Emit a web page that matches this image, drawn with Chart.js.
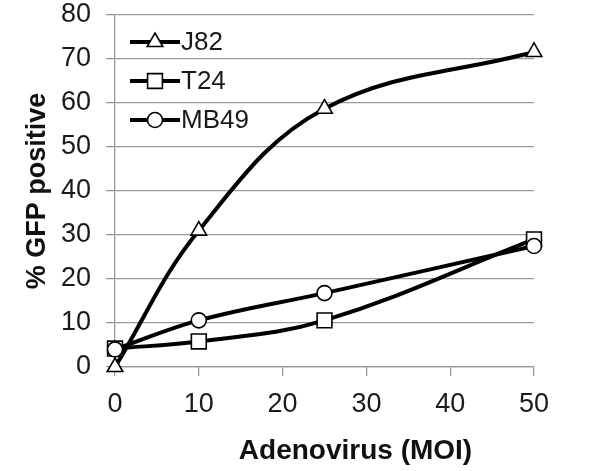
<!DOCTYPE html>
<html>
<head>
<meta charset="utf-8">
<script src="https://cdn.jsdelivr.net/npm/chart.js@4.4.0/dist/chart.umd.min.js"></script>
<style>
  html, body { margin: 0; padding: 0; background: #fff; }
  #wrap { width: 601px; height: 471px; }
</style>
</head>
<body>
<div id="wrap"><canvas id="c" width="601" height="471"></canvas></div>
<script>
var moi = [0, 10, 25, 50];
var j82 = [0, 31, 58.7, 71.6];
var t24 = [4.2, 5.8, 10.6, 29];
var mb49 = [4, 10.6, 16.8, 27.5];
var xTicks = [0, 10, 20, 30, 40, 50];
var yTicks = [0, 10, 20, 30, 40, 50, 60, 70, 80];

var FONT = "'Liberation Sans', Arial, sans-serif";
var GRID = '#9a9a9a';

function pts(ys) {
  return moi.map(function (x, i) { return { x: x, y: ys[i] }; });
}

function series(label, ys, style, radius, order) {
  return {
    label: label,
    data: pts(ys),
    showLine: true,
    clip: false,
    borderColor: '#000',
    borderWidth: 4,
    tension: 0.38,
    pointStyle: style,
    pointRadius: radius,
    pointBorderWidth: 1.6,
    pointBorderColor: '#000',
    pointBackgroundColor: '#fff',
    order: order
  };
}

// legend drawn inside the plot, line + marker like the original
var innerLegend = {
  id: 'innerLegend',
  afterDraw: function (chart) {
    var ctx = chart.ctx, a = chart.chartArea;
    var x0 = a.left + 15, rowY = a.top + 27, gap = 39;
    chart.data.datasets.forEach(function (ds, i) {
      var y = rowY + i * gap;
      ctx.save();
      ctx.strokeStyle = '#000';
      ctx.lineWidth = 4;
      ctx.beginPath();
      ctx.moveTo(x0, y);
      ctx.lineTo(x0 + 50, y);
      ctx.stroke();
      ctx.fillStyle = '#fff';
      ctx.strokeStyle = '#000';
      ctx.lineWidth = 1.6;
      Chart.helpers.drawPoint(ctx, { pointStyle: ds.pointStyle, radius: ds.pointRadius, rotation: 0, borderWidth: 1.6 }, x0 + 25, y);
      ctx.fillStyle = '#1a1a1a';
      ctx.font = '26px ' + FONT;
      ctx.textBaseline = 'middle';
      ctx.textAlign = 'left';
      ctx.fillText(ds.label, x0 + 51, y + 1);
      ctx.restore();
    });
  }
};

// axis titles
var axisTitles = {
  id: 'axisTitles',
  afterDraw: function (chart) {
    var ctx = chart.ctx, a = chart.chartArea;
    ctx.save();
    ctx.fillStyle = '#111';
    ctx.font = 'bold 28px ' + FONT;
    ctx.textAlign = 'center';
    ctx.textBaseline = 'middle';
    ctx.fillText('Adenovirus (MOI)', (a.left + a.right) / 2 + 31, 451);
    ctx.font = 'bold 27px ' + FONT;
    ctx.translate(38, (a.top + a.bottom) / 2);
    ctx.rotate(-Math.PI / 2);
    ctx.fillText('% GFP positive', 0, 0);
    ctx.restore();
  }
};

new Chart(document.getElementById('c'), {
  type: 'scatter',
  data: {
    datasets: [
      series('J82', j82, 'triangle', 9, 2),
      series('T24', t24, 'rect', 10.5, 1),
      series('MB49', mb49, 'circle', 7.5, 0)
    ]
  },
  options: {
    responsive: false,
    animation: false,
    layout: { padding: { top: 15, right: 67, left: 0, bottom: 0 } },
    plugins: {
      legend: { display: false },
      tooltip: { enabled: false }
    },
    scales: {
      x: {
        type: 'linear',
        min: 0, max: 50,
        afterBuildTicks: function (s) { s.ticks = xTicks.map(function (v) { return { value: v }; }); },
        afterFit: function (s) { s.height = 104; s.paddingLeft = 0; s.paddingRight = 0; },
        grid: { drawOnChartArea: false, color: GRID, lineWidth: 1.3, tickLength: 9 },
        border: { color: GRID, width: 1.3 },
        ticks: { color: '#1a1a1a', font: { size: 27, family: FONT }, padding: 12, maxRotation: 0 }
      },
      y: {
        min: 0, max: 80,
        afterBuildTicks: function (s) { s.ticks = yTicks.map(function (v) { return { value: v }; }); },
        afterFit: function (s) { s.width = 115; s.paddingTop = 0; s.paddingBottom = 0; },
        grid: { color: GRID, lineWidth: 1.3, tickLength: 9 },
        border: { color: GRID, width: 1.3 },
        ticks: { color: '#1a1a1a', font: { size: 27, family: FONT }, padding: 15 }
      }
    }
  },
  plugins: [innerLegend, axisTitles]
});
</script>
</body>
</html>
